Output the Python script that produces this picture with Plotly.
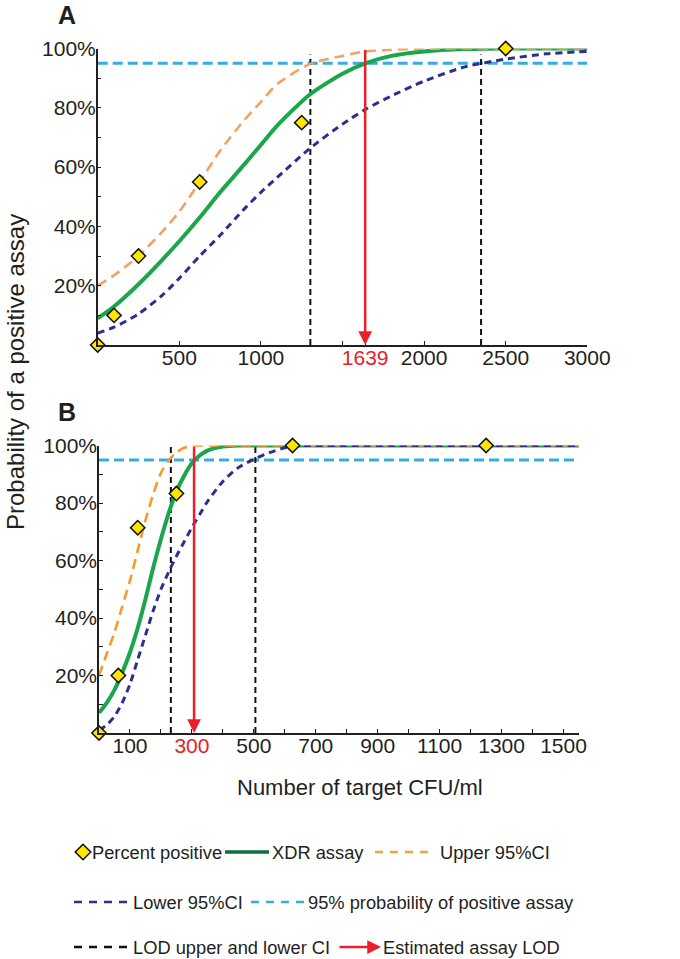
import plotly.graph_objects as go

# ---------------- Panel A data ----------------
a_pts_x = [0, 100, 250, 625, 1250, 2500]
a_pts_y = [0, 10, 30, 55, 75, 100]
a_curve_x = [0, 100, 250, 400, 500, 625, 750, 900, 1000, 1100, 1300, 1500, 1639, 1800, 2000, 2250, 2500, 2750, 3000]
a_fit = [9, 13, 20.5, 29, 35, 43, 51.5, 61, 67.5, 74, 84.5, 91.5, 95, 97.5, 99, 99.8, 100, 100, 100]
a_upper = [20, 23.5, 30, 38.5, 45, 55, 65.5, 76, 82, 88, 94.8, 97.5, 99, 99.6, 99.9, 100, 100, 100, 100]
a_lower = [4, 6, 10.5, 17, 22.5, 30, 37, 46, 51.5, 56.5, 66.3, 74.5, 79.4, 84, 89, 93.8, 96.4, 98.2, 99]
a_lod = 1639
a_lod_ci = [1303, 2349]
a_xrange = [0, 3000]
a_ticks = [500, 1000, 1500, 1639, 2000, 2500, 3000]
a_ticklabels = ["500", "1000", "", "<span style='color:#E8202A'>1639</span>", "2000", "2500", "3000"]

# ---------------- Panel B data ----------------
b_pts_x = [0, 62.5, 125, 250, 625, 1250]
b_pts_y = [0, 20, 71.4, 83.3, 100, 100]
b_curve_x = [0, 25, 50, 75, 100, 125, 150, 175, 200, 225, 250, 275, 300, 325, 350, 400, 450, 500, 550, 600, 650, 700, 1550]
b_fit = [7, 10.5, 15, 21, 28, 36.5, 46.5, 57.5, 67.5, 76.5, 84, 89.5, 93.8, 96.5, 98.2, 99.6, 100, 100, 100, 100, 100, 100, 100]
b_upper = [20, 27.5, 35, 44, 53, 63.5, 74, 83, 90.5, 94.8, 97.6, 99.2, 99.9, 100, 100, 100, 100, 100, 100, 100, 100, 100, 100]
b_lower = [1, 2.8, 5.8, 10.5, 17, 25.5, 34, 42.5, 50, 56, 61.5, 66.5, 71.5, 76, 80.5, 87.5, 92.3, 95.2, 97.5, 99.2, 100, 100, 100]
b_lod = 307
b_lod_ci = [232, 505]
b_xrange = [0, 1550]
b_ticks = list(range(100, 1600, 100))
b_ticklabels = [("<span style='color:#E8202A'>300</span>" if t == 300 else (str(t) if (t // 100) % 2 == 1 else "")) for t in b_ticks]

threshold = 95
y_ticks = [10, 20, 30, 40, 50, 60, 70, 80, 90, 100]
y_ticklabels = ["", "20%", "", "40%", "", "60%", "", "80%", "", "100%"]

# ---------------- styles ----------------
TXT = "#231f20"
GREEN = "#1BA64B"
ORANGE_A = "#F4A262"
ORANGE_B = "#F79A2B"
NAVY = "#2B2F8F"
CYAN = "#35ACE2"
RED = "#E8202A"
YELLOW = "#FFE500"
FONT = "Liberation Sans, Arial, sans-serif"

W, H = 680, 959

fig = go.Figure()


def add_panel(xa, ya, cx, fit, up, lo, px, py, lod, lodci, xr, orange):
    fig.add_trace(go.Scatter(x=xr, y=[threshold, threshold], mode="lines",
                             line=dict(color=CYAN, width=3, dash="10px,5px"),
                             xaxis=xa, yaxis=ya, cliponaxis=False, showlegend=False))
    top = 98 if xa == "x" else 100
    for v in lodci:
        fig.add_trace(go.Scatter(x=[v, v], y=[0, top], mode="lines",
                                 line=dict(color="#111111", width=2, dash="6px,4px"),
                                 xaxis=xa, yaxis=ya, cliponaxis=False, showlegend=False))
    fig.add_trace(go.Scatter(x=cx, y=fit, mode="lines", line=dict(color=GREEN, width=4, shape="spline", smoothing=0.7),
                             xaxis=xa, yaxis=ya, cliponaxis=False, showlegend=False))
    fig.add_trace(go.Scatter(x=cx, y=up, mode="lines",
                             line=dict(color=orange, width=2.6, dash="10px,6px", shape="spline", smoothing=0.7),
                             xaxis=xa, yaxis=ya, cliponaxis=False, showlegend=False))
    fig.add_trace(go.Scatter(x=cx, y=lo, mode="lines",
                             line=dict(color=NAVY, width=3, dash="7px,5px", shape="spline", smoothing=0.7),
                             xaxis=xa, yaxis=ya, cliponaxis=False, showlegend=False))
    fig.add_trace(go.Scatter(x=px, y=py, mode="markers",
                             marker=dict(symbol="diamond", size=11, color=YELLOW, line=dict(color="#111111", width=1.5)),
                             xaxis=xa, yaxis=ya, cliponaxis=False, showlegend=False))
    fig.add_annotation(x=lod, y=0, ax=lod, ay=100, xref=xa, yref=ya, axref=xa, ayref=ya,
                       text="", showarrow=True, arrowhead=2, arrowsize=1.1, arrowwidth=2.5,
                       arrowcolor=RED, standoff=0, startstandoff=0)


add_panel("x", "y", a_curve_x, a_fit, a_upper, a_lower, a_pts_x, a_pts_y, a_lod, a_lod_ci, a_xrange, ORANGE_A)
add_panel("x2", "y2", b_curve_x, b_fit, b_upper, b_lower, b_pts_x, b_pts_y, b_lod, b_lod_ci, b_xrange, ORANGE_B)

# ---------------- legend (drawn on a pixel axis) ----------------
leg_rows = [852, 902, 947]
fig.add_trace(go.Scatter(x=[83], y=[leg_rows[0]], mode="markers",
                         marker=dict(symbol="diamond", size=12, color=YELLOW, line=dict(color="#111111", width=1.5)),
                         xaxis="x3", yaxis="y3", showlegend=False, cliponaxis=False))
leg_lines = [
    ([225, 269], leg_rows[0], "#0E6E3C", 3.5, "solid"),
    ([375, 430], leg_rows[0], "#F7A23A", 2.6, "8px,7px"),
    ([74, 130], leg_rows[1], NAVY, 2.6, "8px,7px"),
    ([251, 305], leg_rows[1], CYAN, 2.6, "8px,7px"),
    ([74, 130], leg_rows[2], "#111111", 2.6, "8px,7px"),
]
for xs, yy, col, wd, ds in leg_lines:
    fig.add_trace(go.Scatter(x=xs, y=[yy, yy], mode="lines", line=dict(color=col, width=wd, dash=ds),
                             xaxis="x3", yaxis="y3", showlegend=False, cliponaxis=False))
fig.add_annotation(x=381, y=leg_rows[2], ax=338, ay=leg_rows[2], xref="x3", yref="y3", axref="x3", ayref="y3",
                   text="", showarrow=True, arrowhead=2, arrowsize=1.1, arrowwidth=2.5, arrowcolor=RED,
                   standoff=0, startstandoff=0)
leg_texts = [
    (90, leg_rows[0], "Percent positive"),
    (270, leg_rows[0], "XDR assay"),
    (438, leg_rows[0], "Upper 95%CI"),
    (131, leg_rows[1], "Lower 95%CI"),
    (306, leg_rows[1], "95% probability of positive assay"),
    (131, leg_rows[2], "LOD upper and lower CI"),
    (381, leg_rows[2], "Estimated assay LOD"),
]
for tx, ty, t in leg_texts:
    fig.add_annotation(x=tx, y=ty, xref="x3", yref="y3", text=t, showarrow=False,
                       xanchor="left", yanchor="middle", font=dict(size=18.3, color=TXT, family=FONT))


def paper_text(px, py, text, size, angle=0):
    fig.add_annotation(x=px / W, y=1 - py / H, xref="paper", yref="paper", text=text, textangle=angle,
                       showarrow=False, xanchor="center", yanchor="middle",
                       font=dict(size=size, color=TXT, family=FONT))


paper_text(15, 372, "Probability of a positive assay", 24, -90)
paper_text(360, 787, "Number of target CFU/ml", 22)
paper_text(67, 15, "<b>A</b>", 25)
paper_text(67, 412, "<b>B</b>", 25)

axis_common = dict(showline=True, linecolor=TXT, linewidth=1.5, ticks="inside", ticklen=4, tickwidth=1.2,
                   tickcolor=TXT, showgrid=False, zeroline=False, tickfont=dict(size=21, color=TXT, family=FONT),
                   tickmode="array", fixedrange=True, automargin=False)

fig.update_layout(
    width=W, height=H, margin=dict(l=0, r=0, t=0, b=0, autoexpand=False),
    paper_bgcolor="white", plot_bgcolor="rgba(0,0,0,0)",
    font=dict(family=FONT, color=TXT),
    showlegend=False,
    xaxis=dict(domain=[97.7 / W, 587.3 / W], range=a_xrange, anchor="y",
               tickvals=a_ticks, ticktext=a_ticklabels, ticklabelstandoff=-7, **axis_common),
    yaxis=dict(domain=[1 - 345 / H, 1 - 48.5 / H], range=[0, 100], anchor="x",
               tickvals=y_ticks, ticktext=y_ticklabels, ticklabelstandoff=-4, **axis_common),
    xaxis2=dict(domain=[99 / W, 579 / W], range=b_xrange, anchor="y2",
                tickvals=b_ticks, ticktext=b_ticklabels, ticklabelstandoff=-7, **axis_common),
    yaxis2=dict(domain=[1 - 733 / H, 1 - 445.5 / H], range=[0, 100], anchor="x2",
                tickvals=y_ticks, ticktext=y_ticklabels, ticklabelstandoff=-4, **axis_common),
    xaxis3=dict(domain=[0, 1], range=[0, W], visible=False, anchor="y3", fixedrange=True, automargin=False),
    yaxis3=dict(domain=[0, 1], range=[H, 0], visible=False, anchor="x3", fixedrange=True, automargin=False),
)

fig.write_html("out.html", config={"displayModeBar": False},
               post_script="document.body.style.margin='0';document.body.style.overflow='hidden';")
